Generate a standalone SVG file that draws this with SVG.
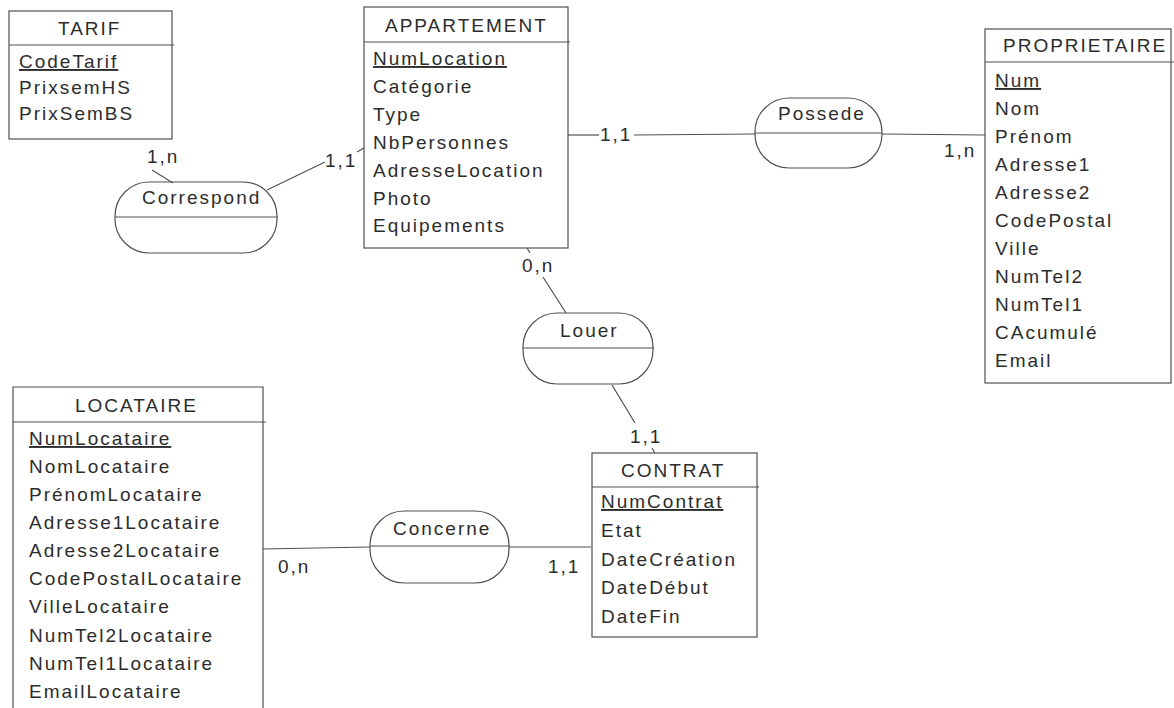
<svg xmlns="http://www.w3.org/2000/svg" width="1174" height="708" viewBox="0 0 1174 708">
<style>
text{font-family:"Liberation Sans",Arial,sans-serif;font-size:19px;letter-spacing:2px;fill:#2c2c2c}
.k{text-decoration:underline}
.box{fill:none;stroke:#505050;stroke-width:1.2}
.ln{fill:none;stroke:#505050;stroke-width:1.2}
</style>
<rect width="1174" height="708" fill="#ffffff"/>
<g id="connectors">
<line class="ln" x1="152" y1="170" x2="173" y2="183"/>
<line class="ln" x1="267" y1="190" x2="325" y2="162"/>
<line class="ln" x1="357" y1="152" x2="364" y2="148"/>
<line class="ln" x1="568" y1="135" x2="599" y2="135"/>
<line class="ln" x1="634" y1="135" x2="755" y2="134"/>
<line class="ln" x1="882" y1="134" x2="985" y2="135"/>
<line class="ln" x1="527" y1="248" x2="530" y2="253"/>
<line class="ln" x1="543" y1="277" x2="566" y2="313"/>
<line class="ln" x1="612" y1="385" x2="635" y2="423"/>
<line class="ln" x1="652" y1="448" x2="655" y2="453"/>
<line class="ln" x1="263" y1="549" x2="370" y2="547"/>
<line class="ln" x1="509" y1="547" x2="591" y2="547"/>
<text x="147" y="163">1,n</text>
<text x="325" y="167">1,1</text>
<text x="600" y="141">1,1</text>
<text x="944" y="157">1,n</text>
<text x="522" y="272">0,n</text>
<text x="630" y="443">1,1</text>
<text x="278" y="573">0,n</text>
<text x="548" y="573">1,1</text>
</g>
<g id="TARIF">
<rect class="box" x="9" y="11" width="163" height="128"/>
<line class="ln" x1="9" y1="45" x2="174" y2="45"/>
<text x="58" y="35">TARIF</text>
<text class="k" x="19" y="68">CodeTarif</text>
<text x="19" y="94">PrixsemHS</text>
<text x="19" y="120">PrixSemBS</text>
</g>
<g id="APPARTEMENT">
<rect class="box" x="364" y="7" width="204" height="241"/>
<line class="ln" x1="364" y1="42" x2="570" y2="42"/>
<text x="385" y="32">APPARTEMENT</text>
<text class="k" x="373" y="65">NumLocation</text>
<text x="373" y="93">Catégorie</text>
<text x="373" y="121">Type</text>
<text x="373" y="149">NbPersonnes</text>
<text x="373" y="177">AdresseLocation</text>
<text x="373" y="205">Photo</text>
<text x="373" y="232">Equipements</text>
</g>
<g id="PROPRIETAIRE">
<rect class="box" x="985" y="29" width="186" height="354"/>
<line class="ln" x1="985" y1="62" x2="1174" y2="62"/>
<text x="1003" y="52">PROPRIETAIRE</text>
<text class="k" x="995" y="87">Num</text>
<text x="995" y="115">Nom</text>
<text x="995" y="143">Prénom</text>
<text x="995" y="171">Adresse1</text>
<text x="995" y="199">Adresse2</text>
<text x="995" y="227">CodePostal</text>
<text x="995" y="255">Ville</text>
<text x="995" y="283">NumTel2</text>
<text x="995" y="311">NumTel1</text>
<text x="995" y="339">CAcumulé</text>
<text x="995" y="367">Email</text>
</g>
<g id="LOCATAIRE">
<path class="box" d="M13,712 V387 H263 V712"/>
<line class="ln" x1="13" y1="422" x2="266" y2="422"/>
<text x="75" y="412">LOCATAIRE</text>
<text class="k" x="29" y="445">NumLocataire</text>
<text x="29" y="473">NomLocataire</text>
<text x="29" y="501">PrénomLocataire</text>
<text x="29" y="529">Adresse1Locataire</text>
<text x="29" y="557">Adresse2Locataire</text>
<text x="29" y="585">CodePostalLocataire</text>
<text x="29" y="613">VilleLocataire</text>
<text x="29" y="642">NumTel2Locataire</text>
<text x="29" y="670">NumTel1Locataire</text>
<text x="29" y="698">EmailLocataire</text>
</g>
<g id="CONTRAT">
<rect class="box" x="592" y="453" width="165" height="184"/>
<line class="ln" x1="592" y1="487" x2="759" y2="487"/>
<text x="621" y="477">CONTRAT</text>
<text class="k" x="601" y="508">NumContrat</text>
<text x="601" y="537">Etat</text>
<text x="601" y="566">DateCréation</text>
<text x="601" y="594">DateDébut</text>
<text x="601" y="623">DateFin</text>
</g>
<g id="Correspond">
<rect class="box" x="115" y="182" width="162" height="71" rx="34" ry="34"/>
<line class="ln" x1="115" y1="217" x2="278" y2="217"/>
<text x="142" y="204">Correspond</text>
</g>
<g id="Possede">
<rect class="box" x="755" y="98" width="127" height="70" rx="34" ry="34"/>
<line class="ln" x1="755" y1="133" x2="882" y2="133"/>
<text x="778" y="120">Possede</text>
</g>
<g id="Louer">
<rect class="box" x="523" y="313" width="130" height="71" rx="34" ry="34"/>
<line class="ln" x1="523" y1="348" x2="654" y2="348"/>
<text x="560" y="337">Louer</text>
</g>
<g id="Concerne">
<rect class="box" x="370" y="511" width="139" height="72" rx="34" ry="34"/>
<line class="ln" x1="370" y1="546" x2="510" y2="546"/>
<text x="393" y="535">Concerne</text>
</g>
</svg>
